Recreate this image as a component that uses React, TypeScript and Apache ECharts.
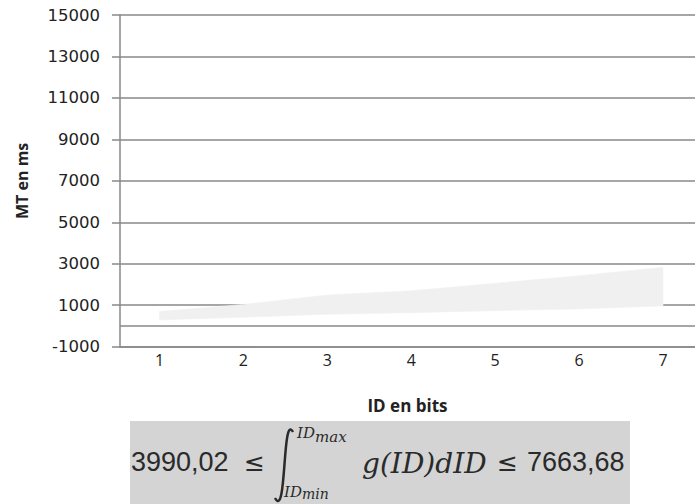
import React, { useEffect, useRef } from "react";
import * as echarts from "echarts";

// ID (bits) categories
const ids = [1, 2, 3, 4, 5, 6, 7];
// Lower bound of MT (ms)
const lowerMT = [290, 420, 560, 640, 740, 820, 965];
// Upper bound of MT (ms)
const upperMT = [700, 1040, 1495, 1700, 2060, 2425, 2830];
// y tick labels
const yTicks = [-1000, 1000, 3000, 5000, 7000, 9000, 11000, 13000, 15000];

const formulaLeft = "3990,02";
const formulaRight = "7663,68";

export default function App() {
  const ref = useRef<HTMLDivElement>(null);
  useEffect(() => {
    if (!ref.current) return;
    const chart = echarts.init(ref.current, undefined, { renderer: "svg" });
    const bandData = ids.map((x, i) => [x, lowerMT[i], upperMT[i]]);
    const textCol = "#222";
    const n = ids.length;
    chart.setOption({
      animation: false,
      backgroundColor: "#ffffff",
      grid: { left: 120, right: 0, top: 15, bottom: 157.3, containLabel: false },
      xAxis: {
        type: "value",
        min: 0.5293,
        max: 7.3813,
        name: "ID en bits",
        nameLocation: "middle",
        nameGap: 50,
        nameTextStyle: { fontFamily: "Open Sans", fontWeight: "bold", fontSize: 17, color: textCol },
        axisLine: { show: true, onZero: false, lineStyle: { color: "#888", width: 1.5 } },
        axisTick: { show: false },
        splitLine: { show: false },
        axisLabel: {
          customValues: ids,
          formatter: (v: number) => String(v),
          fontFamily: "Open Sans",
          fontSize: 16,
          color: textCol,
          margin: 5,
        },
      },
      yAxis: {
        type: "value",
        min: yTicks[0],
        max: yTicks[yTicks.length - 1],
        interval: 2000,
        name: "MT en ms",
        nameLocation: "middle",
        nameRotate: 90,
        nameGap: 90,
        nameTextStyle: { fontFamily: "Open Sans", fontWeight: "bold", fontSize: 16, color: textCol },
        axisLine: { show: true, lineStyle: { color: "#888", width: 1.5 } },
        axisTick: { show: true, length: 8, lineStyle: { color: "#888", width: 1.5 } },
        splitLine: { show: true, lineStyle: { color: "#888", width: 1.5 } },
        axisLabel: {
          formatter: (v: number) => String(v),
          fontFamily: "DejaVu Sans",
          fontSize: 16.5,
          color: textCol,
          margin: 20,
        },
      },
      series: [
        {
          type: "custom",
          data: bandData,
          encode: { x: 0, y: [1, 2] },
          silent: true,
          renderItem: (params: any, api: any) => {
            if (params.dataIndex !== 0) return null;
            const top: number[][] = [];
            const bottom: number[][] = [];
            for (let i = 0; i < n; i++) {
              top.push(api.coord([api.value(0, i), api.value(2, i)]));
              bottom.push(api.coord([api.value(0, i), api.value(1, i)]));
            }
            const points = top.concat(bottom.reverse());
            return {
              type: "polygon",
              shape: { points },
              style: { fill: "#f0f0f0", stroke: "#eef3f5", lineWidth: 0.6 },
            };
          },
          markLine: {
            silent: true,
            symbol: "none",
            label: { show: false },
            lineStyle: { color: "#888", width: 1.5, type: "solid" },
            data: [{ yAxis: 0 }],
          },
        },
      ],
      graphic: [
        {
          type: "rect",
          shape: { x: 130, y: 421, width: 500, height: 83 },
          style: { fill: "#d4d4d4" },
          z: 10,
        },
        {
          type: "text",
          x: 131,
          y: 462,
          z: 11,
          style: {
            text: formulaLeft,
            font: "27px 'Liberation Sans'",
            fill: "#2a2a2a",
            verticalAlign: "middle",
            align: "left",
          },
        },
        {
          type: "text",
          x: 244,
          y: 462,
          z: 11,
          style: { text: "≤", font: "25px 'DejaVu Sans'", fill: "#2a2a2a", verticalAlign: "middle", align: "left" },
        },
        {
          type: "bezierCurve",
          z: 11,
          shape: { x1: 293, y1: 432, cpx1: 282, cpy1: 412, cpx2: 287, cpy2: 520, x2: 275, y2: 498 },
          style: { stroke: "#2a2a2a", lineWidth: 2.5, fill: null },
        },
        {
          type: "text",
          x: 297,
          y: 425,
          z: 11,
          style: { text: "ID", font: "italic 15px 'DejaVu Serif'", fill: "#2a2a2a", verticalAlign: "top" },
        },
        {
          type: "text",
          x: 315,
          y: 429,
          z: 11,
          style: { text: "max", font: "italic 15px 'DejaVu Serif'", fill: "#2a2a2a", verticalAlign: "top" },
        },
        {
          type: "text",
          x: 284,
          y: 484,
          z: 11,
          style: { text: "ID", font: "italic 15px 'DejaVu Serif'", fill: "#2a2a2a", verticalAlign: "top" },
        },
        {
          type: "text",
          x: 302,
          y: 487,
          z: 11,
          style: { text: "min", font: "italic 14px 'DejaVu Serif'", fill: "#2a2a2a", verticalAlign: "top" },
        },
        {
          type: "text",
          x: 362,
          y: 463,
          z: 11,
          style: { text: "g(ID)dID", font: "italic 28px 'DejaVu Serif'", fill: "#2a2a2a", verticalAlign: "middle", align: "left" },
        },
        {
          type: "text",
          x: 497,
          y: 462,
          z: 11,
          style: { text: "≤", font: "25px 'DejaVu Sans'", fill: "#2a2a2a", verticalAlign: "middle", align: "left" },
        },
        {
          type: "text",
          x: 527,
          y: 462,
          z: 11,
          style: {
            text: formulaRight,
            font: "27px 'Liberation Sans'",
            fill: "#2a2a2a",
            verticalAlign: "middle",
            align: "left",
          },
        },
      ],
    });
    return () => chart.dispose();
  }, []);
  return (
    <div
      ref={ref}
      style={{ position: "fixed", left: 0, top: 0, width: 695, height: 504, background: "#fff" }}
    />
  );
}
